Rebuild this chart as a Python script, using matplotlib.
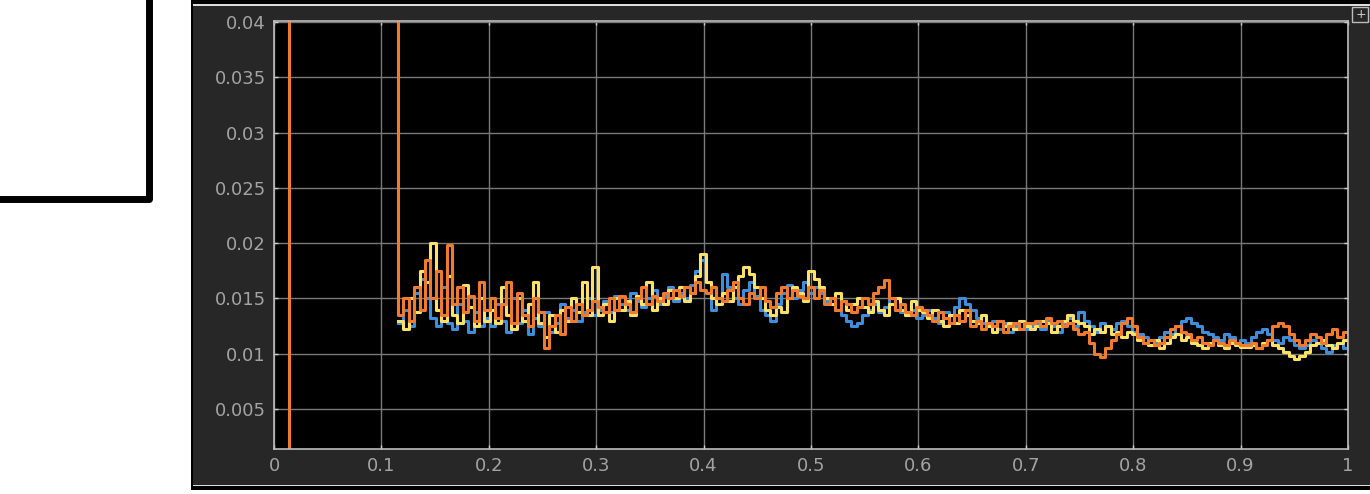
"""
Scope screenshot: three noisy error signals, dark theme
"""

import numpy as np
import matplotlib.pyplot as plt
from matplotlib.patches import Rectangle

W, H = 1370, 494

# signal values in units of 1e-4, sampled from t = 0.1155 to 1.0 (177 samples)
blue = [
    128, 140, 125, 155, 168, 150, 132, 125, 160, 128, 122, 145, 130, 120, 138, 125, 132,
    125, 145, 130, 120, 150, 128, 140, 118, 132, 125, 138, 120, 128, 145, 132, 140, 130, 138, 150, 135,
    140, 148, 138, 152, 145, 140, 155, 148, 142, 150, 158, 145, 152, 160, 148, 155, 150, 162, 175, 185,
    165, 140, 150, 172, 160, 150, 145, 158, 165, 152, 140, 135, 130, 145, 155, 162, 150, 158, 165, 155,
    160, 155, 148, 150, 140, 135, 130, 125, 128, 135, 140, 145, 138, 142, 150, 140, 138, 135, 140, 132,
    135, 140, 132, 128, 138, 135, 142, 150, 145, 140, 132, 128, 125, 130, 122, 128, 120, 125, 130, 122,
    125, 128, 122, 130, 125, 120, 128, 132, 125, 138, 130, 125, 120, 128, 125, 122, 128, 130, 125, 120,
    118, 115, 112, 110, 115, 120, 118, 125, 130, 132, 128, 125, 120, 118, 115, 112, 118, 115, 110, 112,
    110, 115, 120, 122, 118, 112, 110, 115, 112, 108, 105, 108, 112, 110, 105, 102, 108, 110, 105, 102,
]
yellow = [
    130, 122, 150, 138, 175, 165, 200, 140, 130, 170, 135, 128, 162, 142, 125, 150, 130,
    140, 128, 160, 135, 122, 150, 130, 145, 165, 128, 115, 135, 120, 140, 130, 150, 138, 165, 135, 178,
    135, 145, 130, 150, 140, 148, 135, 152, 145, 165, 140, 150, 145, 158, 150, 160, 148, 155, 170, 190,
    165, 150, 145, 155, 148, 160, 170, 178, 172, 160, 150, 140, 135, 142, 138, 150, 160, 155, 148, 175,
    168, 160, 150, 145, 155, 148, 140, 145, 150, 142, 138, 148, 140, 135, 145, 150, 140, 135, 148, 140,
    138, 132, 140, 130, 125, 135, 128, 140, 135, 130, 128, 135, 125, 120, 130, 125, 128, 122, 130, 125,
    122, 125, 130, 128, 120, 125, 130, 135, 130, 128, 125, 118, 122, 120, 125, 118, 120, 115, 120, 118,
    112, 110, 108, 112, 105, 110, 115, 118, 112, 115, 110, 108, 105, 110, 112, 108, 105, 110, 108, 106,
    106, 108, 105, 110, 112, 108, 105, 102, 98, 95, 98, 102, 108, 110, 112, 108, 105, 110, 112, 108,
]
orange = [
    135, 150, 130, 160, 140, 185, 150, 175, 135, 198, 145, 160, 138, 152, 130, 165, 140,
    150, 132, 145, 165, 128, 155, 135, 125, 150, 138, 105, 125, 135, 118, 142, 130, 145, 135, 140, 148,
    142, 138, 150, 140, 152, 145, 138, 150, 160, 145, 152, 148, 155, 150, 158, 152, 160, 155, 165, 158,
    155, 160, 150, 148, 158, 165, 150, 145, 155, 150, 160, 148, 142, 155, 160, 150, 158, 152, 150, 160,
    150, 158, 145, 150, 140, 148, 145, 138, 142, 150, 145, 155, 160, 167, 150, 140, 145, 138, 135, 142,
    140, 135, 130, 138, 132, 128, 135, 130, 140, 125, 130, 122, 128, 125, 130, 120, 125, 128, 122, 128,
    128, 130, 125, 132, 128, 130, 125, 128, 122, 118, 120, 110, 100, 97, 105, 112, 118, 128, 132, 125,
    115, 110, 112, 108, 110, 115, 122, 125, 120, 118, 112, 115, 110, 108, 112, 110, 108, 112, 110, 108,
    108, 110, 105, 108, 112, 125, 128, 125, 118, 112, 108, 112, 118, 115, 110, 118, 122, 115, 120, 118,
]
# orange start-up transient: zero, then off the top of the scale
orange_pre_t = [0.0, 0.014]
orange_pre_v = [0.0, 0.05]

xticks = [0, 0.1, 0.2, 0.3, 0.4, 0.5, 0.6, 0.7, 0.8, 0.9, 1]
xlabels = ['0', '0.1', '0.2', '0.3', '0.4', '0.5', '0.6', '0.7', '0.8', '0.9', '1']
yticks = [0.005, 0.01, 0.015, 0.02, 0.025, 0.03, 0.035, 0.04]
ylabels = ['0.005', '0.01', '0.015', '0.02', '0.025', '0.03', '0.035', '0.04']

t = np.linspace(0.1155, 1.0, len(blue))
b = np.array(blue) * 1e-4
y = np.array(yellow) * 1e-4
o = np.array(orange) * 1e-4


def fx(px):
    return px / W


def fy(py):
    return 1 - py / H


fig = plt.figure(figsize=(W / 100, H / 100), dpi=100, facecolor='white')

# left black frame (partial window)
fig.add_artist(Rectangle((fx(-30), fy(198.5)), fx(178.5), 1.2, transform=fig.transFigure,
                         fill=False, edgecolor='black', linewidth=5, joinstyle='round', zorder=-5))

# scope panel (behind the axes)
fig.add_artist(Rectangle((fx(191), fy(490)), fx(W - 191), 490 / H, transform=fig.transFigure,
                         facecolor='black', edgecolor='none', zorder=-5))
fig.add_artist(Rectangle((fx(193), fy(486)), fx(W - 193), 482 / H, transform=fig.transFigure,
                         facecolor='#dcdcdc', edgecolor='none', zorder=-4))
fig.add_artist(Rectangle((fx(193), fy(485)), fx(W - 193), 479 / H, transform=fig.transFigure,
                         facecolor='#272727', edgecolor='none', zorder=-3))

# little expand icon top right
fig.add_artist(Rectangle((fx(1352), fy(22)), fx(16), 15 / H, transform=fig.transFigure,
                         facecolor='#272727', edgecolor='#bdbdbd', linewidth=1))
fig.text(fx(1361), fy(14.5), '+', color='#d0d0d0', fontsize=9, ha='center', va='center')

ax = fig.add_axes([fx(274), fy(449), fx(1348 - 274), (449 - 21) / H])
ax.set_facecolor('black')

ax.plot(t, b, color='#3d8fdc', lw=2.2, drawstyle='steps-post')
ax.plot(t, y, color='#fbe266', lw=2.2, drawstyle='steps-post')
ax.plot(np.concatenate([orange_pre_t, t]), np.concatenate([orange_pre_v, o]),
        color='#f07a2e', lw=2.2, drawstyle='steps-post')

ax.set_xlim(0, 1)
ax.set_ylim(0.00138, 0.0401)
ax.set_xticks(xticks)
ax.set_xticklabels(xlabels)
ax.set_yticks(yticks)
ax.set_yticklabels(ylabels)
ax.grid(True, color='#7a7a7a', lw=1)
ax.tick_params(direction='in', length=3, width=1, color='#d0d0d0', labelcolor='#a3a3a3',
               labelsize=13, top=True, right=True, pad=6)
for lab in ax.get_xticklabels() + ax.get_yticklabels():
    lab.set_family('DejaVu Sans')
for s in ax.spines.values():
    s.set_color('#bdbdbd')
    s.set_linewidth(1.2)

fig.savefig('out.png', dpi=100, facecolor='white')
